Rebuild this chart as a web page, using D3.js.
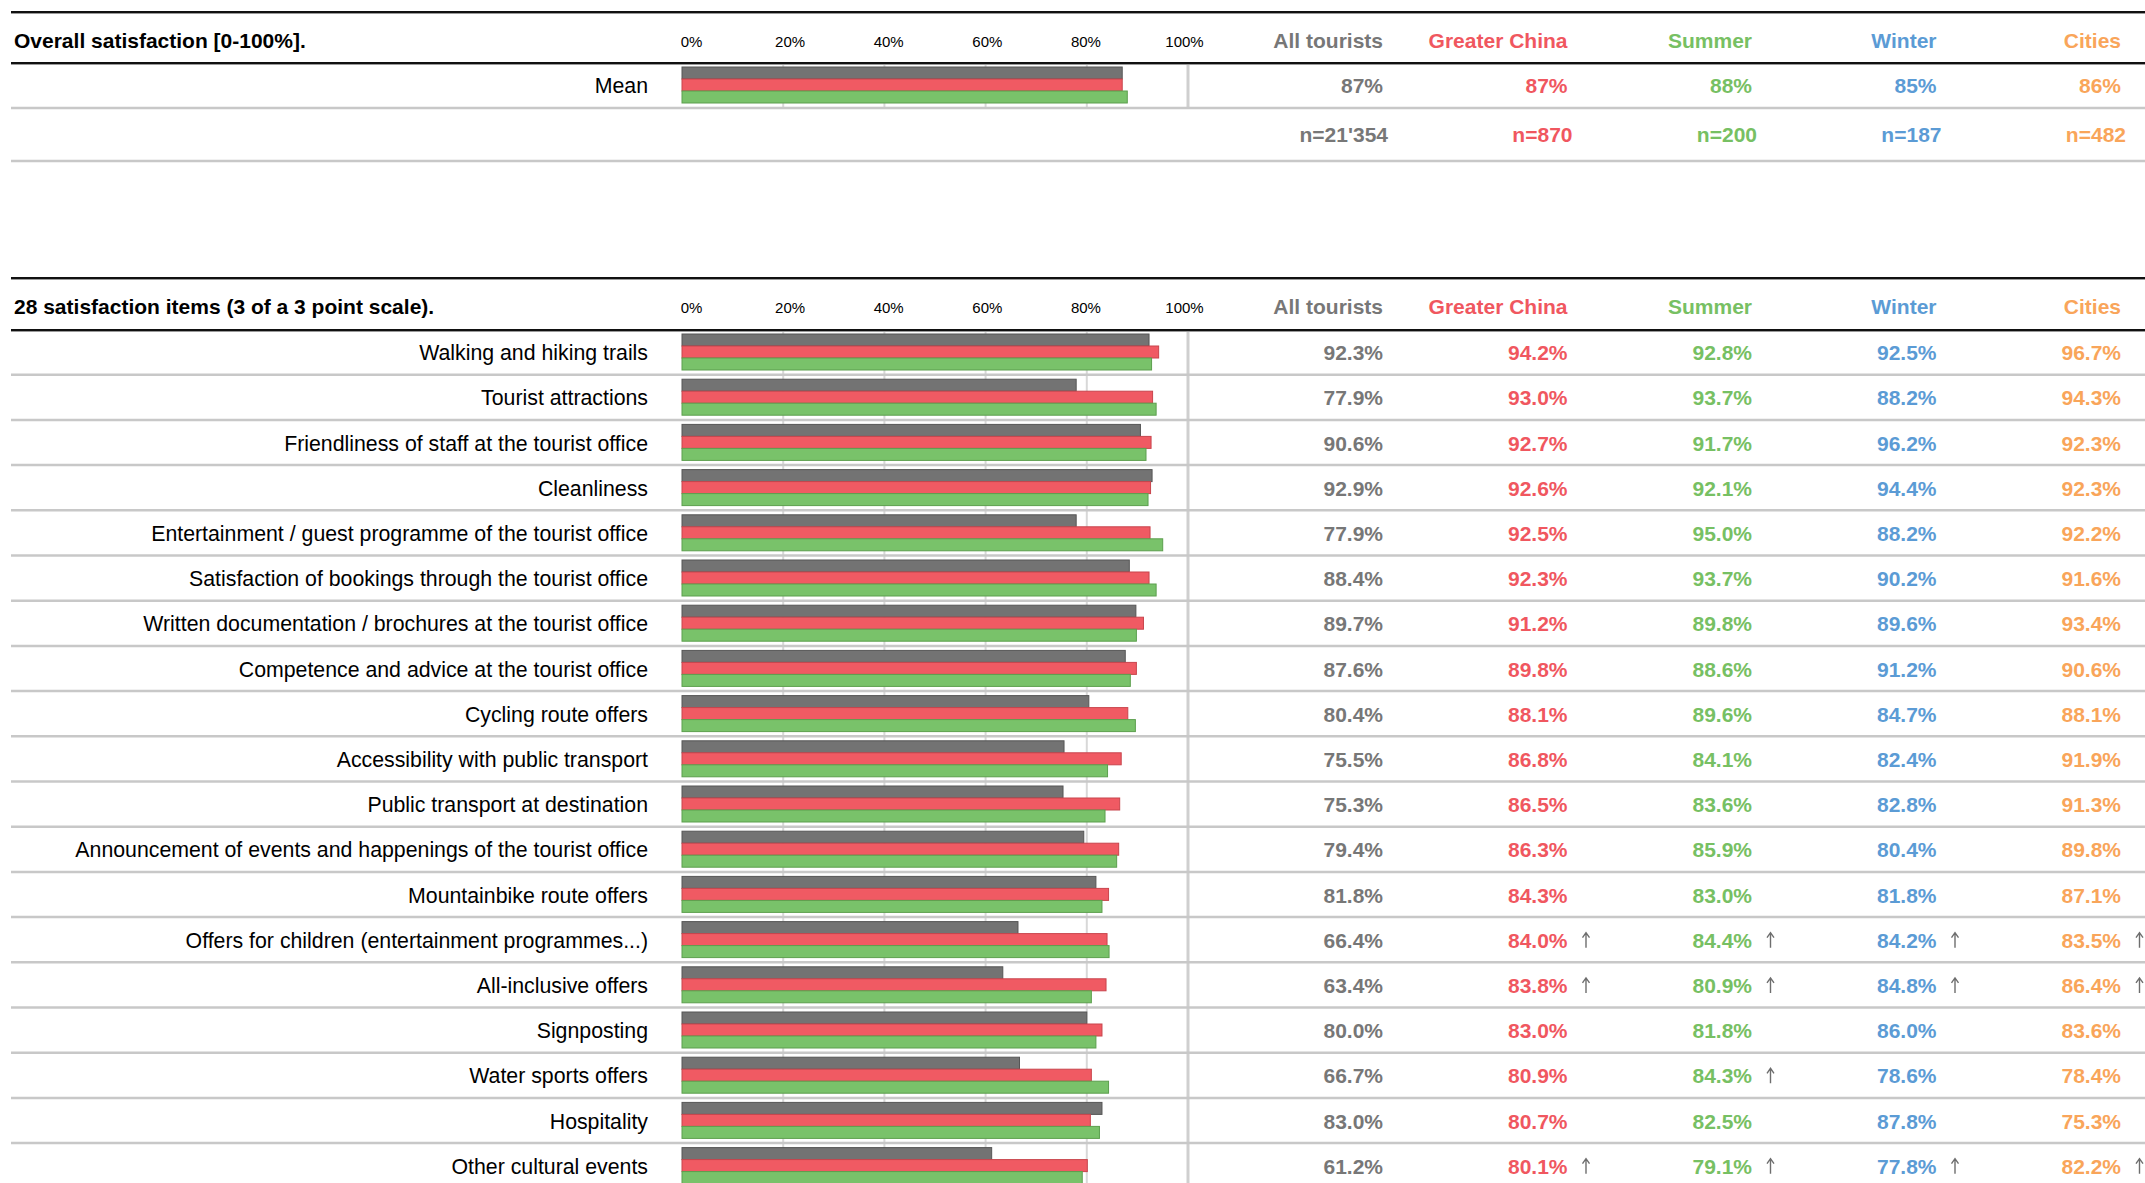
<!DOCTYPE html>
<html>
<head>
<meta charset="utf-8">
<script src="https://cdn.jsdelivr.net/npm/d3@7/dist/d3.min.js"></script>
<style>
  html, body { margin: 0; padding: 0; background: #fff; }
  svg { display: block; font-family: "Liberation Sans", Arial, sans-serif; }
</style>
</head>
<body>
<svg id="chart" width="2145" height="1183"></svg>
<script>
// ---- data ----
const groups = ["All tourists", "Greater China", "Summer", "Winter", "Cities"];
const barGroups = ["All tourists", "Greater China", "Summer"];
const ticks = [0, 20, 40, 60, 80, 100];

const overallMean = [87, 87, 88, 85, 86];
const sampleSizes = ["n=21'354", "n=870", "n=200", "n=187", "n=482"];

const items = [
  "Walking and hiking trails",
  "Tourist attractions",
  "Friendliness of staff at the tourist office",
  "Cleanliness",
  "Entertainment / guest programme of the tourist office",
  "Satisfaction of bookings through the tourist office",
  "Written documentation / brochures at the tourist office",
  "Competence and advice at the tourist office",
  "Cycling route offers",
  "Accessibility with public transport",
  "Public transport at destination",
  "Announcement of events and happenings of the tourist office",
  "Mountainbike route offers",
  "Offers for children (entertainment programmes...)",
  "All-inclusive offers",
  "Signposting",
  "Water sports offers",
  "Hospitality",
  "Other cultural events"
];
const allTourists = [92.3, 77.9, 90.6, 92.9, 77.9, 88.4, 89.7, 87.6, 80.4, 75.5, 75.3, 79.4, 81.8, 66.4, 63.4, 80.0, 66.7, 83.0, 61.2];
const greaterChina = [94.2, 93.0, 92.7, 92.6, 92.5, 92.3, 91.2, 89.8, 88.1, 86.8, 86.5, 86.3, 84.3, 84.0, 83.8, 83.0, 80.9, 80.7, 80.1];
const summer = [92.8, 93.7, 91.7, 92.1, 95.0, 93.7, 89.8, 88.6, 89.6, 84.1, 83.6, 85.9, 83.0, 84.4, 80.9, 81.8, 84.3, 82.5, 79.1];
const winter = [92.5, 88.2, 96.2, 94.4, 88.2, 90.2, 89.6, 91.2, 84.7, 82.4, 82.8, 80.4, 81.8, 84.2, 84.8, 86.0, 78.6, 87.8, 77.8];
const cities = [96.7, 94.3, 92.3, 92.3, 92.2, 91.6, 93.4, 90.6, 88.1, 91.9, 91.3, 89.8, 87.1, 83.5, 86.4, 83.6, 78.4, 75.3, 82.2];
// significantly higher than all tourists
const upChina = [0,0,0,0,0,0,0,0,0,0,0,0,0,1,1,0,0,0,1];
const upSummer = [0,0,0,0,0,0,0,0,0,0,0,0,0,1,1,0,1,0,1];
const upWinter = [0,0,0,0,0,0,0,0,0,0,0,0,0,1,1,0,0,0,1];
const upCities = [0,0,0,0,0,0,0,0,0,0,0,0,0,1,1,0,0,0,1];

// ---- styles ----
const textColor = { "All tourists": "#777777", "Greater China": "#f0575f", "Summer": "#77c063", "Winter": "#5b9bd5", "Cities": "#f9a55a" };
const barFill = { "All tourists": "#737373", "Greater China": "#f05a63", "Summer": "#79c26a" };
const barStroke = { "All tourists": "#565656", "Greater China": "#c8454d", "Summer": "#5c9f4e" };

const svg = d3.select("#chart");
const W = 2145, left = 11;

const x = d3.scaleLinear().domain([0, 100]).range([682, 1188]);
const labelX = d3.scaleLinear().domain([0, 100]).range([691, 1184]);
const colX = d3.scalePoint().domain(groups).range([1383, 2121]);
const sub = d3.scaleBand().domain(barGroups).range([4, 40]);
const labelRight = 648;
const fs = 21;

function hline(y, color, width) {
  svg.append("line").attr("x1", left).attr("x2", W).attr("y1", y).attr("y2", y)
    .attr("stroke", color).attr("stroke-width", width);
}
function thick(y) {
  hline(y + 1.5, "#9a9a9a", 1);
  hline(y, "#111", 2);
}

function header(top, title) {
  const base = top + 36;
  svg.append("text").attr("x", 14).attr("y", base).attr("font-size", fs)
    .attr("font-weight", "bold").attr("fill", "#000").text(title);
  const ax = svg.append("g").attr("transform", `translate(0,${base - 1})`)
    .call(d3.axisTop(labelX).tickValues(ticks).tickSize(0).tickPadding(0).tickFormat(d => d + "%"));
  ax.select(".domain").remove();
  ax.selectAll("text").attr("font-size", 15).attr("font-family", "Liberation Sans, Arial, sans-serif")
    .attr("fill", "#000").attr("dy", 0);
  svg.selectAll(null).data(groups).enter().append("text")
    .attr("x", d => colX(d)).attr("y", base).attr("text-anchor", "end")
    .attr("font-size", fs).attr("font-weight", "bold").attr("fill", d => textColor[d]).text(d => d);
}

function gridlines(y0, y1) {
  const g = svg.append("g");
  g.selectAll("line").data(ticks.filter(t => t > 0)).enter().append("line")
    .attr("x1", d => x(d)).attr("x2", d => x(d)).attr("y1", y0).attr("y2", y1)
    .attr("stroke", d => d === 100 ? "#cfcfcf" : "#d8d8d8")
    .attr("stroke-width", d => d === 100 ? 3 : 2);
}

function bars(top, vals) {
  const g = svg.append("g").attr("transform", `translate(0,${top})`);
  g.selectAll("rect").data(barGroups.map((k, i) => ({ k, v: vals[i] }))).enter().append("rect")
    .attr("x", x(0)).attr("y", d => sub(d.k)).attr("width", d => x(d.v) - x(0)).attr("height", sub.bandwidth())
    .attr("fill", d => barFill[d.k]).attr("stroke", d => barStroke[d.k]).attr("stroke-width", 1);
}

// thin upward arrow marking a significant difference
function upArrow(cx, base) {
  const top = base - 15;
  svg.append("path")
    .attr("d", `M${cx},${base} L${cx},${top + 0.5} M${cx - 3.5},${top + 5} L${cx},${top} L${cx + 3.5},${top + 5}`)
    .attr("fill", "none").attr("stroke", "#6e6e6e").attr("stroke-width", 1.4);
}

function valueCells(center, vals, fmt, ups) {
  groups.forEach((gname, i) => {
    svg.append("text").attr("x", colX(gname)).attr("y", center + 7.5).attr("text-anchor", "end")
      .attr("font-size", fs).attr("font-weight", "bold").attr("fill", textColor[gname]).text(fmt(vals[i]));
    if (ups && ups[i]) upArrow(colX(gname) + 18.5, center + 7.5);
  });
}

// ---- section 1: overall satisfaction ----
const s1Top = 12, s1Head = 63, s1RowH = 45;
header(s1Top, "Overall satisfaction [0-100%].");
gridlines(s1Head, s1Head + s1RowH);
bars(s1Head, overallMean);
svg.append("text").attr("x", labelRight).attr("y", s1Head + s1RowH / 2 + 7.5).attr("text-anchor", "end")
  .attr("font-size", 21.3).attr("fill", "#000").text("Mean");
valueCells(s1Head + s1RowH / 2, overallMean, d => d + "%", null);
hline(s1Head + s1RowH, "#c8c8c8", 2.5);
const nCenter = s1Head + s1RowH + 26.5;
groups.forEach((gname, i) => {
  svg.append("text").attr("x", colX(gname) + 5).attr("y", nCenter + 7.5).attr("text-anchor", "end")
    .attr("font-size", fs).attr("font-weight", "bold").attr("fill", textColor[gname]).text(sampleSizes[i]);
});
hline(161, "#c8c8c8", 2.5);
thick(s1Top);
thick(s1Head);

// ---- section 2: satisfaction items ----
const s2Top = 278, s2Head = 330, rowH = 45.2;
header(s2Top, "28 satisfaction items (3 of a 3 point scale).");
const y = d3.scaleBand().domain(items).range([s2Head, s2Head + rowH * items.length]);
gridlines(s2Head, 1183);
items.forEach((name, i) => {
  const top = y(name);
  bars(top, [allTourists[i], greaterChina[i], summer[i]]);
  svg.append("text").attr("x", labelRight).attr("y", top + rowH / 2 + 7.5).attr("text-anchor", "end")
    .attr("font-size", 21.3).attr("fill", "#000").text(name);
  valueCells(top + rowH / 2,
    [allTourists[i], greaterChina[i], summer[i], winter[i], cities[i]],
    d => d.toFixed(1) + "%",
    [0, upChina[i], upSummer[i], upWinter[i], upCities[i]]);
  hline(top + rowH - 0.5, "#c8c8c8", 2.5);
});
thick(s2Top);
thick(s2Head);
</script>
</body>
</html>
